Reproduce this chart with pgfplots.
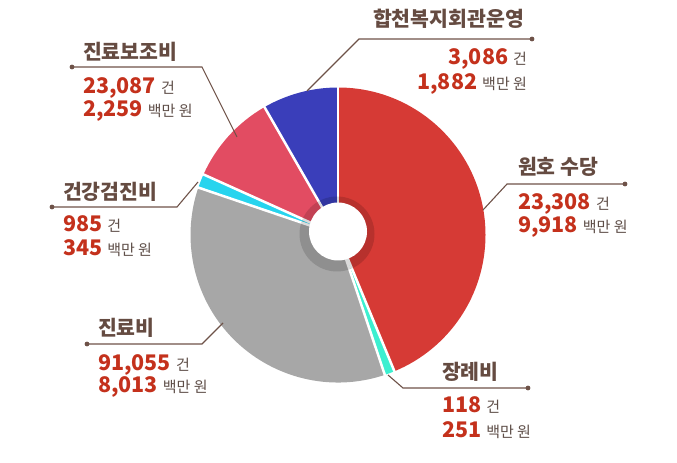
\documentclass[border=0pt]{standalone}
\usepackage{pgfplots}
\pgfplotsset{compat=1.18}
\usepackage{pgfplotstable}
\usepackage{fontspec}
\setmainfont{Noto Sans CJK KR}

\definecolor{c0}{HTML}{D63A35}
\definecolor{c1}{HTML}{3CEFD0}
\definecolor{c2}{HTML}{A7A7A7}
\definecolor{c3}{HTML}{27D4EE}
\definecolor{c4}{HTML}{E24C62}
\definecolor{c5}{HTML}{3A3EBA}
\definecolor{titlec}{HTML}{654B41}
\definecolor{numc}{HTML}{C4311C}
\definecolor{unitc}{HTML}{5E4E48}
\definecolor{linec}{HTML}{6E5248}

% value = 백만 원, count = 건
\pgfplotstableread{
id value count
0 9918 23308
1 251 118
2 8013 91055
3 345 985
4 2259 23087
5 1882 3086
}\piedata

\newcommand\ttl[1]{{\fontsize{20.5bp}{20.5bp}\selectfont\bfseries\color{titlec}#1}}
\newcommand\nm[2]{{\fontsize{21.5bp}{21.5bp}\selectfont\bfseries\color{numc}#1}\hspace{5bp}{\fontsize{15bp}{15bp}\selectfont\color{unitc}#2}}

\begin{document}%
\begin{tikzpicture}
% cumulative angles from the table (values scaled by 1/100 to stay in range)
\def\total{0}
\foreach \i in {0,...,5}{%
  \pgfplotstablegetelem{\i}{value}\of\piedata
  \pgfmathsetmacro\t{\total+\pgfplotsretval/100}%
  \xdef\total{\t}%
}
\xdef\curang{90}
\foreach \i in {0,...,5}{%
  \pgfplotstablegetelem{\i}{value}\of\piedata
  \pgfmathsetmacro\e{\curang-(\pgfplotsretval/100)/\total*360}%
  \expandafter\xdef\csname s\i\endcsname{\curang}%
  \expandafter\xdef\csname e\i\endcsname{\e}%
  \xdef\curang{\e}%
}
\begin{axis}[
  scale only axis, width=677bp, height=463bp,
  xmin=0, xmax=677, ymin=0, ymax=463,
  hide axis, clip=false,
]
\path (axis cs:0,0) (axis cs:677,463);
\pgfplotsinvokeforeach{0,...,5}{
  \fill[c#1] (axis cs:338,228) -- ++(\csname s#1\endcsname:147.5bp)
     arc[start angle=\csname s#1\endcsname, end angle=\csname e#1\endcsname, radius=147.5bp] -- cycle;
}
\pgfplotsinvokeforeach{0,...,5}{
  \draw[white, line width=2.5bp] (axis cs:338,228) -- ++(\csname s#1\endcsname:149bp);
}
% shadow ring and hole
\fill[black, opacity=0.14] (axis cs:337,229) circle[radius=37.5bp];
\fill[white] (axis cs:338,231.5) circle[radius=29bp];

% leader lines
\begin{scope}[linec, line width=1.1bp]
\draw (axis cs:307,372) -- (axis cs:359,424) -- (axis cs:532,424);
\fill (axis cs:532,424) circle[radius=2.4bp];
\draw (axis cs:72,396) -- (axis cs:202,396) -- (axis cs:237,326);
\fill (axis cs:72,396) circle[radius=2.4bp];
\draw (axis cs:52,256) -- (axis cs:177,256) -- (axis cs:198,281);
\fill (axis cs:52,256) circle[radius=2.4bp];
\draw (axis cs:87,119) -- (axis cs:202,119) -- (axis cs:223,140);
\fill (axis cs:87,119) circle[radius=2.4bp];
\draw (axis cs:388,88) -- (axis cs:403,75) -- (axis cs:528,75);
\fill (axis cs:528,75) circle[radius=2.4bp];
\draw (axis cs:483,253) -- (axis cs:507,279) -- (axis cs:625,279);
\fill (axis cs:625,279) circle[radius=2.4bp];
\end{scope}

% labels
\begin{scope}[every node/.style={inner sep=0pt, outer sep=0pt}]
\node[anchor=east] at (axis cs:524,444) {\ttl{합천복지회관운영}};
\node[anchor=base east] at (axis cs:527,398) {\nm{3,086}{건}};
\node[anchor=base east] at (axis cs:527,373) {\nm{1,882}{백만 원}};

\node[anchor=west] at (axis cs:83,411) {\ttl{진료보조비}};
\node[anchor=base west] at (axis cs:83,369) {\nm{23,087}{건}};
\node[anchor=base west] at (axis cs:83,346) {\nm{2,259}{백만 원}};

\node[anchor=west] at (axis cs:63,271) {\ttl{건강검진비}};
\node[anchor=base west] at (axis cs:63,231) {\nm{985}{건}};
\node[anchor=base west] at (axis cs:63,207) {\nm{345}{백만 원}};

\node[anchor=west] at (axis cs:98,135) {\ttl{진료비}};
\node[anchor=base west] at (axis cs:98,92) {\nm{91,055}{건}};
\node[anchor=base west] at (axis cs:98,70) {\nm{8,013}{백만 원}};

\node[anchor=west] at (axis cs:442,91) {\ttl{장례비}};
\node[anchor=base west] at (axis cs:442,50) {\nm{118}{건}};
\node[anchor=base west] at (axis cs:442,26) {\nm{251}{백만 원}};

\node[anchor=west] at (axis cs:518,296) {\ttl{원호 수당}};
\node[anchor=base west] at (axis cs:518,253) {\nm{23,308}{건}};
\node[anchor=base west] at (axis cs:518,230) {\nm{9,918}{백만 원}};
\end{scope}
\end{axis}
\end{tikzpicture}%
\end{document}
